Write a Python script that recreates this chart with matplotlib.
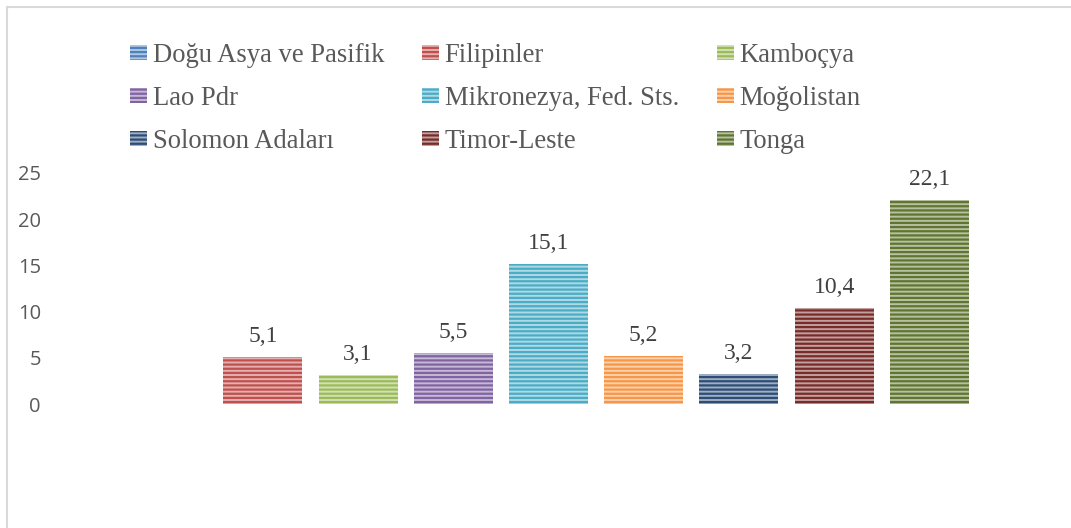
import numpy as np
import matplotlib
matplotlib.use("Agg")
import matplotlib.pyplot as plt
import matplotlib.patches as patches
from matplotlib.colors import to_rgb

# data
series = ["Doğu Asya ve Pasifik", "Filipinler", "Kamboçya",
          "Lao Pdr", "Mikronezya, Fed. Sts.", "Moğolistan",
          "Solomon Adaları", "Timor-Leste", "Tonga"]
values = [np.nan, 5.1, 3.1, 5.5, 15.1, 5.2, 3.2, 10.4, 22.1]
colors = ["#4F81BD", "#C0504D", "#9BBB59", "#8064A2", "#4BACC6",
          "#F79646", "#2C4D75", "#772C2A", "#5F7530"]
yticks = [0, 5, 10, 15, 20, 25]

plt.rcParams['hatch.linewidth'] = 1.6


def light(c, f=0.55):
    r, g, b = to_rgb(c)
    return (r + (1 - r) * f, g + (1 - g) * f, b + (1 - b) * f)


W, H = 1071, 528
fig = plt.figure(figsize=(W / 100, H / 100), dpi=100)

# chart frame (cut at right/bottom in the reference)
fig.patches.append(patches.Rectangle((7 / W, -0.1), 1.2, 1 - 7 / H + 0.1,
                                     transform=fig.transFigure, fill=False,
                                     edgecolor="#D9D9D9", linewidth=1.5))

ax = fig.add_axes([120 / W, 124 / H, 857 / W, 231 / H])
x = np.arange(len(series))
bars = []
for i, (name, v, c) in enumerate(zip(series, values, colors)):
    b = ax.bar(x[i], v, width=0.83, facecolor=light(c), edgecolor=c,
               hatch="----", linewidth=0, label=name)
    bars.append(b)
    if not np.isnan(v):
        ax.text(x[i], v + 1.1, f"{v:.1f}".replace(".", ","), ha="center",
                va="bottom", fontsize=17, family="Liberation Serif",
                color="#404040")

ax.set_xlim(-0.5, len(series) - 0.5)
ax.set_ylim(0, 25)
ax.set_yticks(yticks)
ax.set_yticklabels([str(t) for t in yticks], family="Open Sans",
                   fontsize=14.5, color="#595959")
ax.tick_params(axis="y", length=0, pad=57)
ax.set_xticks([])
for s in ax.spines.values():
    s.set_visible(False)

# legend row-wise like Excel: reorder for column-major fill
order = [0, 3, 6, 1, 4, 7, 2, 5, 8]
handles = [bars[i] for i in order]
labels = [series[i] for i in order]
fig.legend(handles, labels, ncol=3, loc="upper left",
           bbox_to_anchor=(130 / W, 1 - 43 / H), frameon=False,
           prop={"family": "Liberation Serif", "size": 19.2},
           labelcolor="#595959", handlelength=0.65, handleheight=0.5,
           handletextpad=0.2, columnspacing=1.42, labelspacing=0.67,
           borderpad=0, borderaxespad=0)

fig.savefig("out.png", dpi=100)
